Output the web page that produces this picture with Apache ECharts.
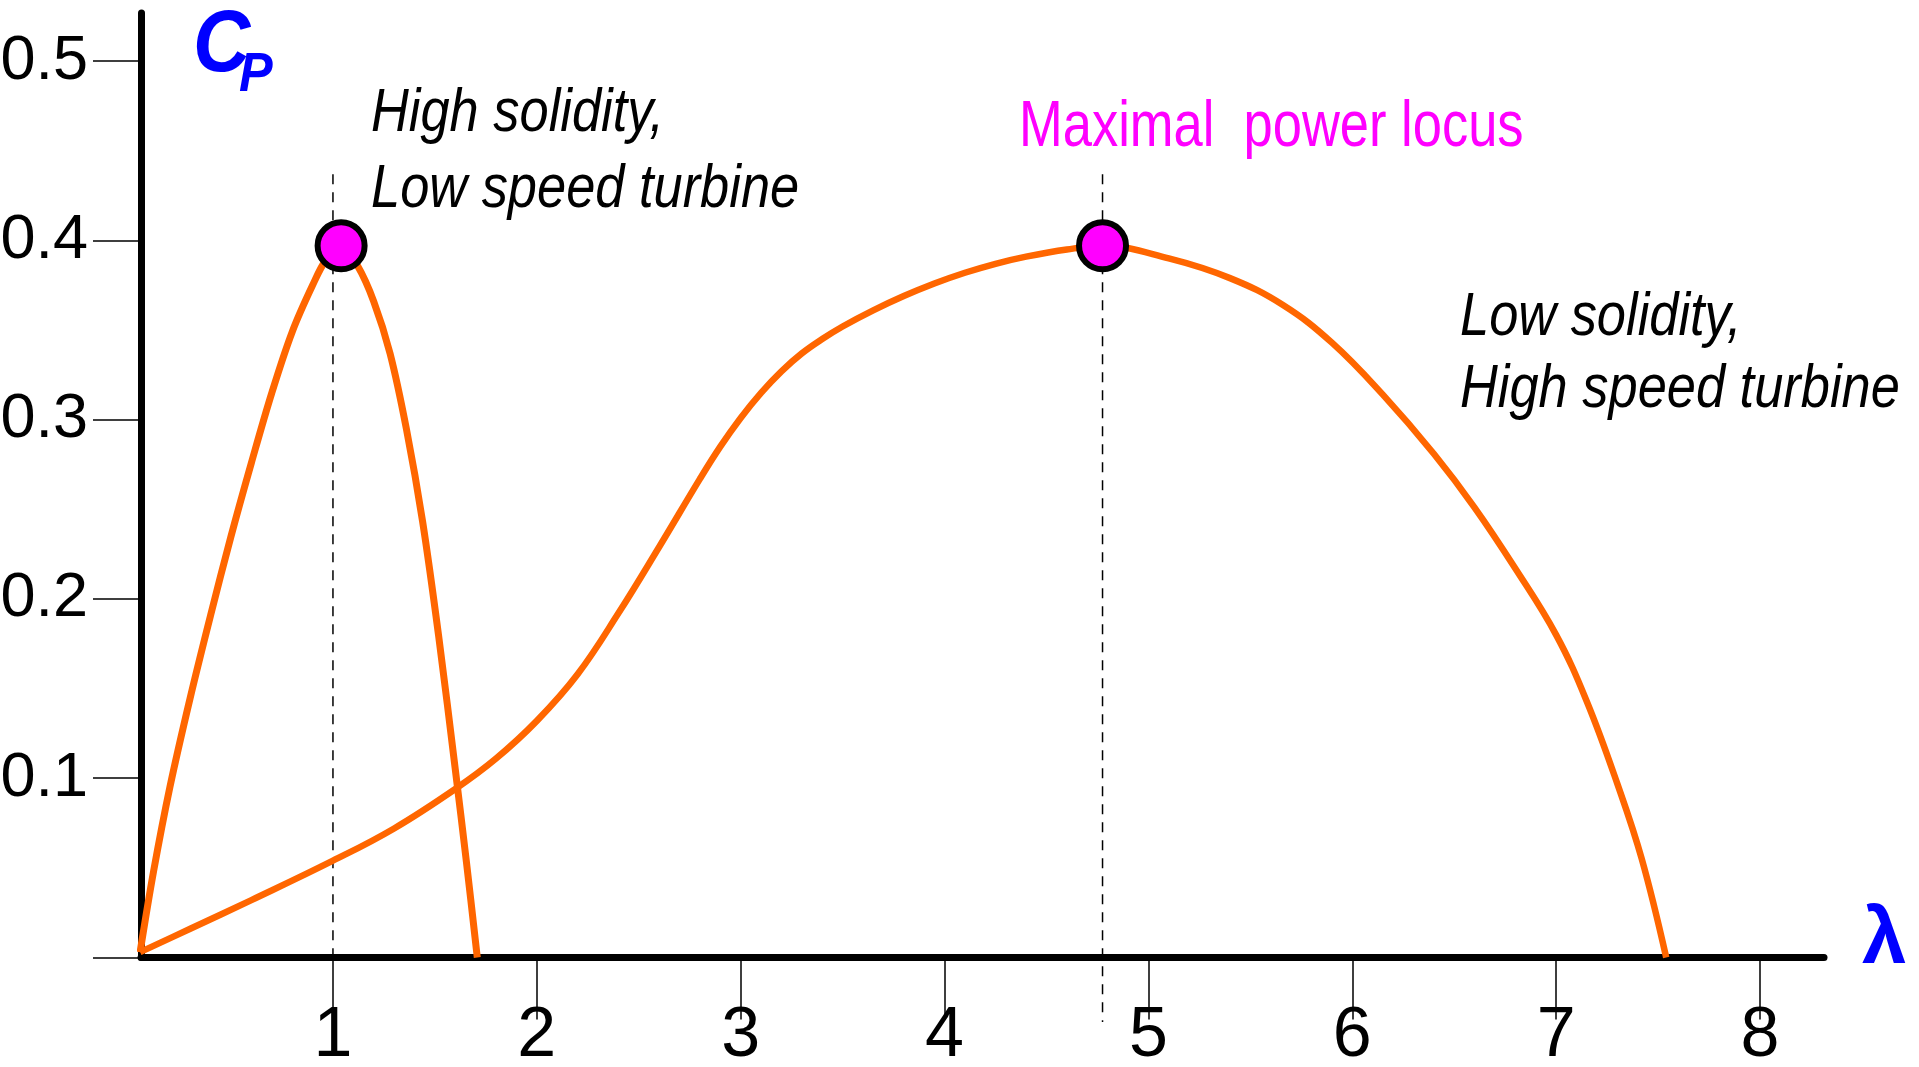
<!DOCTYPE html>
<html>
<head>
<meta charset="utf-8">
<script src="https://cdn.jsdelivr.net/npm/echarts@6/dist/echarts.min.js"></script>
<style>
html,body{margin:0;padding:0;background:#fff;}
#chart{width:1919px;height:1067px;}
</style>
</head>
<body>
<div id="chart"></div>
<script>
// ---- data ----
const lambdaHigh = [0.054, 0.12, 0.2, 0.3, 0.4, 0.5, 0.6, 0.7, 0.8, 0.9, 0.97, 1.04, 1.12, 1.2, 1.28, 1.36, 1.44, 1.52, 1.6, 1.655, 1.708];
const cpHigh     = [0.003, 0.048, 0.095, 0.145, 0.191, 0.235, 0.276, 0.315, 0.349, 0.375, 0.39, 0.397, 0.386, 0.366, 0.337, 0.295, 0.243, 0.178, 0.105, 0.053, 0.0];

const lambdaLow = [0.054, 0.3, 0.6, 1.0, 1.3, 1.6, 1.8, 2.0, 2.2, 2.4, 2.6, 2.8, 2.9, 3.0, 3.1, 3.2, 3.3, 3.4, 3.5, 3.65, 3.8, 3.95, 4.1, 4.25, 4.4, 4.6, 4.775, 5.1, 5.4, 5.66, 5.9, 6.15, 6.4, 6.6, 6.8, 7.0, 7.15, 7.3, 7.42, 7.54];
const cpLow     = [0.003, 0.016, 0.032, 0.054, 0.072, 0.094, 0.111, 0.132, 0.158, 0.192, 0.229, 0.267, 0.285, 0.301, 0.315, 0.327, 0.337, 0.345, 0.352, 0.361, 0.369, 0.376, 0.382, 0.387, 0.391, 0.395, 0.397, 0.39, 0.379, 0.364, 0.343, 0.314, 0.281, 0.251, 0.217, 0.18, 0.143, 0.097, 0.055, 0.0];

const maxLambda = [1.04, 4.775];
const maxCp     = [0.397, 0.397];

const locusLambda = [1.0, 4.775];
const locusTopCp = [0.437, 0.437];
const locusBottomCp = [0.0, -0.036];

const yTickValues = [0, 0.1, 0.2, 0.3, 0.4, 0.5];
const yLabelValues = [0.1, 0.2, 0.3, 0.4, 0.5];
const xTickValues = [1, 2, 3, 4, 5, 6, 7, 8];

const textHigh = ['High solidity,', 'Low speed turbine'];
const textLow = ['Low solidity,', 'High speed turbine'];
const textLocus = 'Maximal  power locus';

// ---- chart ----
const SANS = "'Liberation Sans', Arial, sans-serif";
const ORANGE = '#FF6600';
const MAGENTA = '#FF00FF';
const BLUE = '#0000FF';

const zipPts = (xs, ys) => xs.map((x, i) => [x, ys[i]]);

function txt(text, x, baseline, size, opts) {
  opts = opts || {};
  return {
    type: 'text',
    x: x,
    y: baseline - 0.3465 * size,
    scaleX: opts.sx || 0.82,
    z: 100,
    style: {
      text: text,
      fontFamily: opts.family || SANS,
      fontSize: size,
      fontStyle: opts.italic ? 'italic' : 'normal',
      fontWeight: opts.bold ? 'bold' : 'normal',
      fill: opts.color || '#000',
      align: 'left',
      verticalAlign: 'middle'
    }
  };
}

const chart = echarts.init(document.getElementById('chart'), null, {renderer: 'canvas'});
chart.setOption({
  backgroundColor: '#ffffff',
  animation: false,
  grid: {
    left: 141, top: 13, width: 1683, height: 944.5,
    containLabel: false,
    outerBoundsMode: 'none'
  },
  xAxis: {
    type: 'value',
    min: 0.0584, max: 8.314,
    splitLine: {show: false},
    axisLine: {show: true, onZero: false, lineStyle: {color: '#000', width: 7}},
    axisTick: {show: true, inside: false, length: 62, customValues: xTickValues, lineStyle: {color: '#000', width: 1.5}},
    axisLabel: {show: true, margin: 44, customValues: xTickValues,
      fontFamily: SANS, fontSize: 70, color: '#000'}
  },
  yAxis: {
    type: 'value',
    min: 0, max: 0.5269,
    splitLine: {show: false},
    axisLine: {show: true, onZero: false, lineStyle: {color: '#000', width: 7}},
    axisTick: {show: true, inside: false, length: 48, customValues: yTickValues, lineStyle: {color: '#000', width: 1.5}},
    axisLabel: {show: true, margin: 53, customValues: yLabelValues,
      fontFamily: SANS, fontSize: 63, color: '#000',
      formatter: v => Number(v).toFixed(1)}
  },
  series: [
    {
      name: 'Low speed turbine', type: 'line', data: zipPts(lambdaHigh, cpHigh),
      smooth: 0.35, showSymbol: false, clip: false, z: 3,
      lineStyle: {color: ORANGE, width: 7, cap: 'butt', join: 'round'}
    },
    {
      name: 'High speed turbine', type: 'line', data: zipPts(lambdaLow, cpLow),
      smooth: 0.4, showSymbol: false, clip: false, z: 3,
      lineStyle: {color: ORANGE, width: 6.5, cap: 'butt', join: 'round'}
    },
    {
      name: 'locus1', type: 'line', data: [[locusLambda[0], locusTopCp[0]], [locusLambda[0], locusBottomCp[0]]],
      showSymbol: false, clip: false, z: 2, silent: true,
      lineStyle: {color: '#000', width: 1.5, type: [10, 8]}
    },
    {
      name: 'locus2', type: 'line', data: [[locusLambda[1], locusTopCp[1]], [locusLambda[1], locusBottomCp[1]]],
      showSymbol: false, clip: false, z: 2, silent: true,
      lineStyle: {color: '#000', width: 1.5, type: [10, 8]}
    },
    {
      name: 'Maximal power', type: 'scatter', data: zipPts(maxLambda, maxCp),
      symbol: 'circle', symbolSize: 47, clip: false, z: 10,
      itemStyle: {color: MAGENTA, borderColor: '#000', borderWidth: 6, opacity: 1}
    }
  ],
  graphic: [
    txt('C', 193, 77, 88, {bold: true, italic: true, color: BLUE, sx: 0.9}),
    txt('P', 239, 95, 56, {bold: true, italic: true, color: BLUE, sx: 0.9}),
    txt('λ', 1862, 969, 80, {bold: true, color: BLUE, sx: 1}),
    txt(textHigh[0], 371, 135, 62, {italic: true, sx: 0.845}),
    txt(textHigh[1], 371, 211, 62, {italic: true, sx: 0.845}),
    txt(textLocus, 1019, 151, 64, {color: MAGENTA}),
    txt(textLow[0], 1460, 339, 62, {italic: true, sx: 0.845}),
    txt(textLow[1], 1460, 411, 62, {italic: true, sx: 0.845})
  ]
});
</script>
</body>
</html>
